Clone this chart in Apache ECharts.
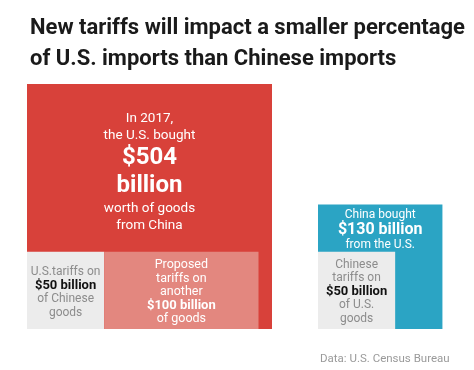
<!DOCTYPE html>
<html><head><meta charset="utf-8">
<script src="https://cdn.jsdelivr.net/npm/echarts@6/dist/echarts.min.js"></script>
<style>html,body{margin:0;padding:0;background:#fff}#c{width:474px;height:370px}</style>
</head><body><div id="c"></div>
<script>
// ---- data (billions of dollars, 2017) ----
const usBoughtFromChina = 504;
const usTariffsNow = 50;
const usTariffsProposed = 100;
const chinaBoughtFromUS = 130;
const chinaTariffs = 50;

const titleText = 'New tariffs will impact a smaller percentage\nof U.S. imports than Chinese imports';
const sourceText = 'Data: U.S. Census Bureau';

const FONT = 'Roboto, "Liberation Sans", sans-serif';
const RED = '#d8413a', LIGHTRED = '#e3877f', GRAY = '#ececec', BLUE = '#2ba4c4';
const GRAYTXT = '#8c8c8c';

// geometry in sqrt-billion units: area is proportional to value
const sR = Math.sqrt(usBoughtFromChina);
const sUS50 = Math.sqrt(usTariffsNow);
const wUS100 = usTariffsProposed / sUS50;
const sB = Math.sqrt(chinaBoughtFromUS);
const sCN50 = Math.sqrt(chinaTariffs);

const gridLeft = 27, gridBottom = 41, gridTop = 84, W = 474, H = 370;
const pxPerUnit = (H - gridTop - gridBottom) / sR;
const xMax = (W - gridLeft) / pxPerUnit;
const gapUnits = 46 / pxPerUnit;
const bx = sR + gapUnits;

const rich = {
  r: {fontFamily: FONT, fontSize: 13.5, lineHeight: 17, fill: '#fff', color:'#fff'},
  B: {fontFamily: FONT, fontSize: 24, fontWeight: 'bold', lineHeight: 28, fill: '#fff', color:'#fff'},
  w: {fontFamily: FONT, fontSize: 12.5, lineHeight: 13.5, fill: '#fff', color:'#fff'},
  wb: {fontFamily: FONT, fontSize: 13, fontWeight: 'bold', lineHeight: 13.5, fill: '#fff', color:'#fff'},
  g: {fontFamily: FONT, fontSize: 12, lineHeight: 13.5, fill: GRAYTXT, color: GRAYTXT},
  gb: {fontFamily: FONT, fontSize: 13, fontWeight: 'bold', lineHeight: 13.5, fill: '#111', color:'#111'},
  bt: {fontFamily: FONT, fontSize: 12, lineHeight: 15, fill: '#fff', color:'#fff'},
  bb: {fontFamily: FONT, fontSize: 16, fontWeight: 'bold', lineHeight: 15, fill: '#fff', color:'#fff'}
};

const blocks = [
  {box: [0, 0, sR, sR], label: [0, sUS50, sR, sR], fill: RED, dy: 4,
   text: '{r|In 2017,}\n{r|the U.S. bought}\n{B|$' + usBoughtFromChina + '}\n{B|billion}\n{r|worth of goods}\n{r|from China}'},
  {box: [0, 0, sUS50, sUS50], label: [0, 0, sUS50, sUS50], fill: GRAY, dy: 2,
   text: '{g|U.S.tariffs on}\n{gb|$' + usTariffsNow + ' billion}\n{g|of Chinese}\n{g|goods}'},
  {box: [sUS50, 0, sUS50 + wUS100, sUS50], label: [sUS50, 0, sUS50 + wUS100, sUS50], fill: LIGHTRED, dy: 1.5,
   text: '{w|Proposed}\n{w|tariffs on}\n{w|another}\n{wb|$' + usTariffsProposed + ' billion}\n{w|of goods}'},
  {box: [bx, 0, bx + sB, sB], label: [bx, sCN50, bx + sB, sB], fill: BLUE, dy: 2,
   text: '{bt|China bought}\n{bb|$' + chinaBoughtFromUS + ' billion}\n{bt|from the U.S.}'},
  {box: [bx, 0, bx + sCN50, sCN50], label: [bx, 0, bx + sCN50, sCN50], fill: GRAY, dy: 1.5,
   text: '{g|Chinese}\n{g|tariffs on}\n{gb|$' + chinaTariffs + ' billion}\n{g|of U.S.}\n{g|goods}'}
];

const chart = echarts.init(document.getElementById('c'), null, {renderer: 'canvas'});
chart.setOption({
  animation: false,
  backgroundColor: '#fff',
  title: [
    {text: titleText, left: 25, top: 8,
     textStyle: {fontFamily: FONT, fontSize: 22, fontWeight: 'bold', lineHeight: 31, color: '#1a1a1a'}},
    {text: sourceText, left: 315, top: 348,
     textStyle: {fontFamily: FONT, fontSize: 11.5, fontWeight: 'normal', color: '#9a9a9a'}}
  ],
  grid: {left: gridLeft, right: 0, top: gridTop, bottom: gridBottom},
  xAxis: {type: 'value', min: 0, max: xMax, show: false},
  yAxis: {type: 'value', min: 0, max: sR, show: false},
  series: [{
    type: 'custom',
    coordinateSystem: 'cartesian2d',
    data: blocks.map(b => b.box.concat(b.label)),
    renderItem: function (params, api) {
      const b = blocks[params.dataIndex];
      const p0 = api.coord([api.value(0), api.value(1)]);
      const p1 = api.coord([api.value(2), api.value(3)]);
      const l0 = api.coord([api.value(4), api.value(5)]);
      const l1 = api.coord([api.value(6), api.value(7)]);
      return {
        type: 'group',
        children: [
          {type: 'rect', shape: {x: p0[0], y: p1[1], width: p1[0] - p0[0], height: p0[1] - p1[1]},
           style: {fill: b.fill}},
          {type: 'text', x: (l0[0] + l1[0]) / 2, y: (l0[1] + l1[1]) / 2 + b.dy,
           style: {text: b.text, rich: rich, align: 'center', verticalAlign: 'middle', fontFamily: FONT}}
        ]
      };
    }
  }]
});
</script></body></html>
